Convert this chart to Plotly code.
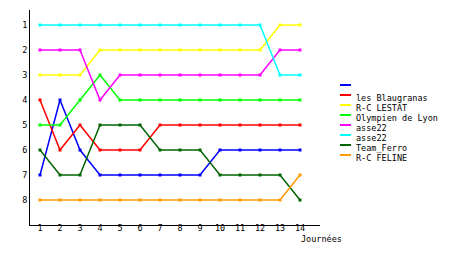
import plotly.graph_objects as go

journees = list(range(1, 15))
teams = ["", "les Blaugranas", "R-C LESTAT", "Olympien de Lyon", "asse22", "asse22", "Team_Ferro", "R-C FELINE"]
colors = ["#0000ff", "#ff0000", "#ffff00", "#00ff00", "#ff00ff", "#00ffff", "#006400", "#ff9900"]
blue = [7, 4, 6, 7, 7, 7, 7, 7, 7, 6, 6, 6, 6, 6]
blaugranas = [4, 6, 5, 6, 6, 6, 5, 5, 5, 5, 5, 5, 5, 5]
lestat = [3, 3, 3, 2, 2, 2, 2, 2, 2, 2, 2, 2, 1, 1]
lyon = [5, 5, 4, 3, 4, 4, 4, 4, 4, 4, 4, 4, 4, 4]
asse_a = [2, 2, 2, 4, 3, 3, 3, 3, 3, 3, 3, 3, 2, 2]
asse_b = [1, 1, 1, 1, 1, 1, 1, 1, 1, 1, 1, 1, 3, 3]
ferro = [6, 7, 7, 5, 5, 5, 6, 6, 6, 7, 7, 7, 7, 8]
feline = [8, 8, 8, 8, 8, 8, 8, 8, 8, 8, 8, 8, 8, 7]
series = [blue, blaugranas, lestat, lyon, asse_a, asse_b, ferro, feline]
y_ticks = list(range(1, 9))

FONT = "DejaVu Sans Mono"
fig = go.Figure()
for name, col, vals in zip(teams, colors, series):
    fig.add_trace(go.Scatter(
        x=journees, y=vals, mode="lines+markers", name=name,
        line=dict(color=col, width=1.5),
        marker=dict(symbol="square", size=3, color=col),
        showlegend=False,
    ))

# manual legend
for i, (name, col) in enumerate(zip(teams, colors)):
    ypix = 85 + 10 * i
    yp = 1 - (ypix - 10) / 215
    fig.add_shape(type="line", xref="paper", yref="paper",
                  x0=(340 - 30) / 290, x1=(351 - 30) / 290, y0=yp, y1=yp,
                  line=dict(color=col, width=2))
    fig.add_annotation(xref="paper", yref="paper", x=(354 - 30) / 290, y=1 - (ypix + 3 - 10) / 215,
                       text=name, showarrow=False, xanchor="left", yanchor="middle",
                       font=dict(family=FONT, size=8.5, color="black"))

fig.add_annotation(xref="paper", yref="paper", x=(299 - 30) / 290, y=1 - (239 - 10) / 215,
                   text="Journées", showarrow=False, xanchor="left", yanchor="middle",
                   font=dict(family=FONT, size=8.5, color="black"))

fig.update_layout(
    width=460, height=255,
    margin=dict(l=30, r=140, t=10, b=30),
    paper_bgcolor="white", plot_bgcolor="white",
    font=dict(family=FONT, size=8.5, color="black"),
    xaxis=dict(range=[0.5, 15], tickvals=journees, showgrid=False, zeroline=False,
               showline=True, linecolor="black", linewidth=1, ticks="",
               ticklabelstandoff=-5),
    yaxis=dict(range=[9, 0.4], tickvals=y_ticks, showgrid=False, zeroline=False,
               showline=True, linecolor="black", linewidth=1, ticks=""),
)
fig.write_html("out.html")
